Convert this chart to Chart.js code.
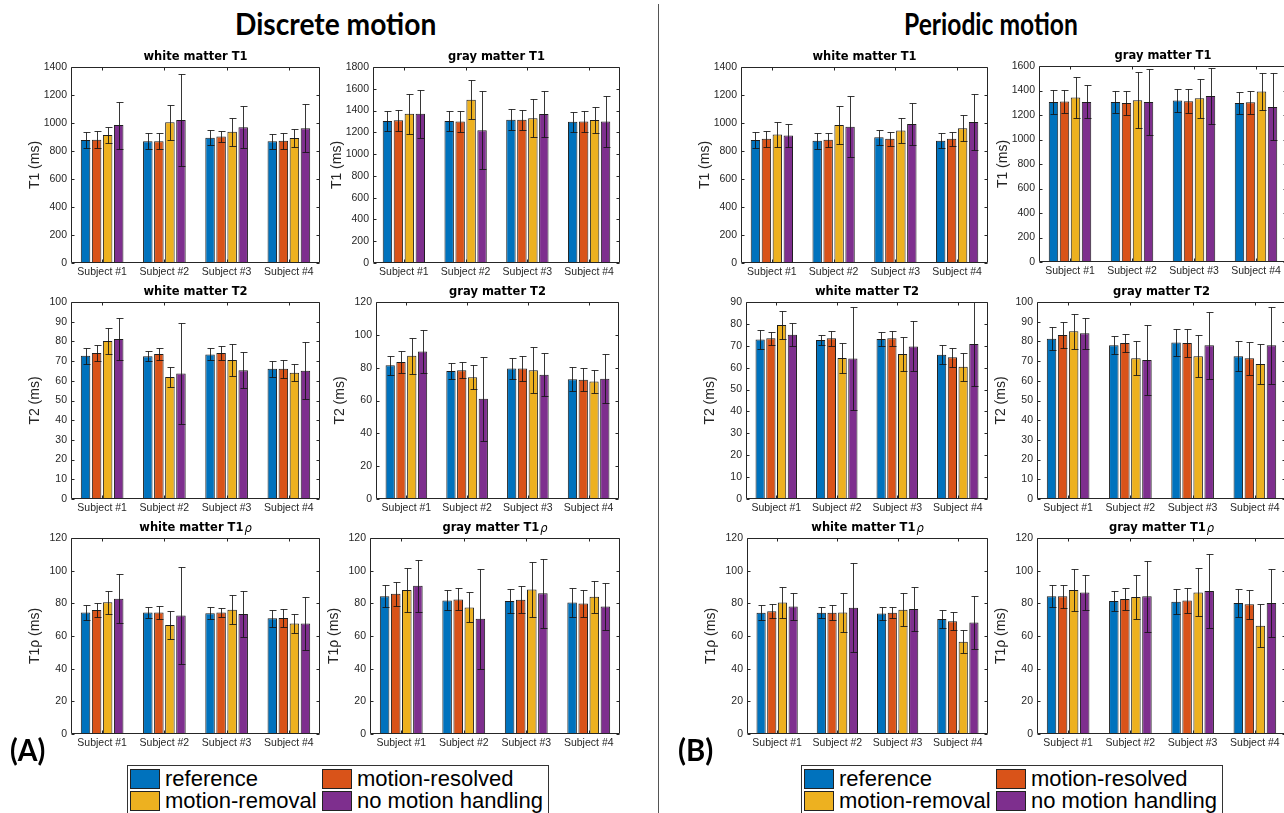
<!DOCTYPE html>
<html><head><meta charset="utf-8">
<script src="https://cdn.jsdelivr.net/npm/chart.js@4.4.0/dist/chart.umd.min.js"></script>
<style>
html,body{margin:0;padding:0;background:#fff;width:1284px;height:813px;overflow:hidden;position:relative;font-family:'Liberation Sans',Arial,sans-serif;}
canvas{position:absolute;}
.big{position:absolute;font-family:Lato,'Open Sans',sans-serif;font-weight:bold;font-size:30px;color:#000;white-space:nowrap;line-height:1;transform-origin:0 0;}
.legend{position:absolute;border:1px solid #333;background:#fff;}
.item{position:absolute;display:flex;align-items:center;font-size:22px;white-space:nowrap;color:#000;line-height:1;}
.sw{width:28px;height:18px;border:1px solid #222;margin-right:5px;flex:none;}
#divider{position:absolute;left:658px;top:4px;width:1px;height:809px;background:#555;}
</style></head><body>
<div id="divider"></div>
<script>
const subjects = ['Subject #1','Subject #2','Subject #3','Subject #4'];
const seriesNames = ['reference','motion-resolved','motion-removal','no motion handling'];
const seriesColors = ['#0072BD','#D95319','#EDB120','#7E2F8E'];

// [series][subject]: reference, motion-resolved, motion-removal, no motion handling
const discWmT1 = [[878,870,895,870],[880,870,903,873],[915,1005,937,893],[985,1022,970,963]];
const discWmT1Err = [[59,58,53,55],[60,58,40,57],[58,123,100,66],[168,328,148,170]];
const discGmT1 = [[1305,1305,1315,1298],[1310,1300,1315,1300],[1370,1500,1330,1313],[1370,1220,1368,1300]];
const discGmT1Err = [[93,92,98,93],[95,96,93,96],[186,177,172,119],[223,360,210,236]];
const discWmT2 = [[72.7,72.5,73.4,66.1],[74.1,73.6,74.1,66.1],[80.2,61.9,70.5,64.1],[81.2,63.7,65.3,65.1]];
const discWmT2Err = [[4.2,2.5,3.0,4.2],[4.0,3.0,3.5,4.5],[6.7,5.3,8.0,4.2],[10.7,25.6,9.2,14.4]];
const discGmT2 = [[81.4,77.9,79.5,73.0],[83.4,78.5,79.5,72.6],[87.2,74.2,78.5,71.6],[89.9,61.0,75.7,73.2]];
const discGmT2Err = [[5.8,4.8,6.5,7.4],[6.7,5.0,7.5,6.9],[10.9,7.3,14.1,7.2],[13.1,25.8,13.2,15.0]];
const discWmT1rho = [[74.4,74.4,74.0,70.8],[75.9,74.4,74.4,71.0],[80.7,66.7,76.1,67.7],[82.8,72.6,73.4,67.7]];
const discWmT1rhoErr = [[4.6,3.5,3.8,5.4],[4.3,4.0,2.8,5.5],[7.0,8.6,9.0,5.9],[15.0,29.5,14.3,16.4]];
const discGmT1rho = [[84.4,81.8,81.4,80.5],[85.8,82.4,82.2,79.9],[88.1,77.5,88.5,84.0],[90.7,70.6,86.2,78.1]];
const discGmT1rhoErr = [[6.8,6.1,7.4,8.7],[7.3,6.7,8.2,8.3],[13.5,9.2,17.1,9.8],[15.8,30.6,21.0,14.4]];

const perWmT1 = [[878,873,899,873],[887,880,887,887],[918,985,947,963],[911,973,992,1007]];
const perWmT1Err = [[58,57,53,55],[58,52,51,50],[88,135,88,93],[79,217,151,200]];
const perGmT1 = [[1307,1307,1318,1298],[1310,1298,1312,1304],[1342,1320,1337,1391],[1307,1307,1356,1266]];
const perGmT1Err = [[95,92,97,93],[95,94,98,92],[166,227,160,154],[134,268,231,273]];
const perWmT2 = [[72.9,72.6,73.1,65.9],[73.4,73.4,73.4,64.8],[79.5,64.4,66.2,60.4],[75.0,64.2,69.7,70.8]];
const perWmT2Err = [[4.3,2.3,3.3,4.3],[3.0,3.5,3.3,4.4],[6.3,7.0,7.8,6.5],[5.2,23.6,11.4,19.0]];
const perGmT2 = [[81.4,78.1,79.5,72.5],[83.2,79.2,79.2,71.4],[85.1,71.4,72.5,68.5],[84.2,70.5,78.0,78.1]];
const perGmT2Err = [[5.8,4.6,6.7,7.5],[6.8,4.4,7.0,8.3],[8.8,8.6,10.6,10.0],[7.9,17.8,16.9,19.6]];
const perWmT1rho = [[74.2,74.2,73.8,70.4],[75.2,74.2,74.2,69.1],[80.5,74.4,76.1,56.5],[78.1,77.3,76.5,68.3]];
const perWmT1rhoErr = [[4.5,3.4,3.9,5.5],[4.2,4.5,3.3,5.3],[9.6,12.1,10.0,7.2],[8.5,27.4,13.3,16.1]];
const perGmT1rho = [[84.3,81.4,81.0,80.2],[84.3,82.7,81.8,79.4],[88.2,83.9,86.7,66.3],[86.7,84.3,87.6,80.2]];
const perGmT1rhoErr = [[6.7,5.9,7.5,8.8],[7.0,6.5,7.8,8.9],[12.6,13.2,14.7,13.0],[10.5,21.8,22.7,20.8]];

const panels = [
  {left:71, top:67, w:249, h:196, title:'white matter T1', rho:false, ytitle:'T1 (ms)', max:1400, step:200, mean:discWmT1, err:discWmT1Err},
  {left:373, top:67, w:247, h:196, title:'gray matter T1', rho:false, ytitle:'T1 (ms)', max:1800, step:200, mean:discGmT1, err:discGmT1Err},
  {left:71, top:302, w:249, h:197, title:'white matter T2', rho:false, ytitle:'T2 (ms)', max:100, step:10, mean:discWmT2, err:discWmT2Err},
  {left:376, top:302, w:243, h:197, title:'gray matter T2', rho:false, ytitle:'T2 (ms)', max:120, step:20, mean:discGmT2, err:discGmT2Err},
  {left:71, top:538, w:249, h:196, title:'white matter T1', rho:true, ytitle:'T1ρ (ms)', max:120, step:20, mean:discWmT1rho, err:discWmT1rhoErr},
  {left:370, top:538, w:250, h:196, title:'gray matter T1', rho:true, ytitle:'T1ρ (ms)', max:120, step:20, mean:discGmT1rho, err:discGmT1rhoErr},
  {left:741, top:67, w:247, h:196, title:'white matter T1', rho:false, ytitle:'T1 (ms)', max:1400, step:200, mean:perWmT1, err:perWmT1Err},
  {left:1039, top:66, w:248, h:196, title:'gray matter T1', rho:false, ytitle:'T1 (ms)', max:1600, step:200, mean:perGmT1, err:perGmT1Err},
  {left:746, top:302, w:242, h:197, title:'white matter T2', rho:false, ytitle:'T2 (ms)', max:90, step:10, mean:perWmT2, err:perWmT2Err},
  {left:1037, top:302, w:249, h:197, title:'gray matter T2', rho:false, ytitle:'T2 (ms)', max:100, step:10, mean:perGmT2, err:perGmT2Err},
  {left:747, top:538, w:241, h:196, title:'white matter T1', rho:true, ytitle:'T1ρ (ms)', max:120, step:20, mean:perWmT1rho, err:perWmT1rhoErr},
  {left:1037, top:538, w:249, h:196, title:'gray matter T1', rho:true, ytitle:'T1ρ (ms)', max:120, step:20, mean:perGmT1rho, err:perGmT1rhoErr}
];

const AX = '#262626';
const Y_W = 46, TOP_PAD = 20, X_H = 18, RIGHT_PAD = 3;

const decoPlugin = {
  id: 'deco',
  afterDatasetsDraw(chart, args, opts) {
    const {ctx, chartArea: a, scales: {y}} = chart;
    ctx.save();
    ctx.beginPath(); ctx.rect(a.left, a.top - 1, a.right - a.left, a.bottom - a.top + 2); ctx.clip();
    ctx.strokeStyle = 'rgba(20,20,20,0.85)';
    ctx.lineWidth = 1;
    chart.data.datasets.forEach((ds, i) => {
      const meta = chart.getDatasetMeta(i);
      meta.data.forEach((bar, j) => {
        const v = ds.data[j], e = ds.err[j];
        const px = Math.round(bar.x) + 0.5;
        const yt = Math.round(y.getPixelForValue(v + e)) + 0.5;
        const yb = Math.round(y.getPixelForValue(v - e)) + 0.5;
        ctx.beginPath();
        ctx.moveTo(px, yt); ctx.lineTo(px, yb);
        ctx.moveTo(px - 3, yt); ctx.lineTo(px + 4, yt);
        ctx.moveTo(px - 3, yb); ctx.lineTo(px + 4, yb);
        ctx.stroke();
      });
    });
    ctx.restore();
  },
  afterDraw(chart, args, opts) {
    const {ctx, chartArea: a, scales: {x, y}} = chart;
    ctx.save();
    ctx.strokeStyle = AX; ctx.lineWidth = 1;
    const L = Math.round(a.left) + 0.5, R = Math.round(a.right) - 0.5;
    const T = Math.round(a.top) + 0.5, B = Math.round(a.bottom) - 0.5;
    ctx.beginPath();
    ctx.rect(L, T, R - L, B - T);
    y.ticks.forEach(t => {
      const py = Math.round(y.getPixelForValue(t.value)) + 0.5;
      ctx.moveTo(L, py); ctx.lineTo(L + 3, py);
      ctx.moveTo(R, py); ctx.lineTo(R - 3, py);
    });
    x.ticks.forEach((t, i) => {
      const px = Math.round(x.getPixelForTick(i)) + 0.5;
      ctx.moveTo(px, T); ctx.lineTo(px, T + 3);
      ctx.moveTo(px, B); ctx.lineTo(px, B - 3);
    });
    ctx.stroke();
    // title
    const cx = (a.left + a.right) / 2, ty = a.top - 10;
    ctx.fillStyle = '#000';
    ctx.textBaseline = 'middle';
    const f1 = 'bold 11.5px "DejaVu Sans", sans-serif';
    const f2 = 'italic 11.5px "DejaVu Sans", sans-serif';
    ctx.font = f1;
    const w1 = ctx.measureText(opts.title).width;
    let w2 = 0;
    if (opts.rho) { ctx.font = f2; w2 = ctx.measureText('ρ').width + 1; }
    const sx = cx - (w1 + w2) / 2;
    ctx.font = f1; ctx.textAlign = 'left';
    ctx.fillText(opts.title, sx, ty);
    if (opts.rho) { ctx.font = f2; ctx.fillText('ρ', sx + w1 + 1, ty + 1); }
    ctx.restore();
  }
};

panels.forEach(p => {
  const c = document.createElement('canvas');
  const W = Y_W + p.w + RIGHT_PAD, H = TOP_PAD + p.h + X_H;
  c.width = W; c.height = H;
  c.style.width = W + 'px'; c.style.height = H + 'px';
  c.style.left = (p.left - Y_W) + 'px';
  c.style.top = (p.top - TOP_PAD) + 'px';
  document.body.appendChild(c);
  new Chart(c.getContext('2d'), {
    type: 'bar',
    data: {
      labels: subjects,
      datasets: seriesNames.map((n, i) => ({
        label: n,
        data: p.mean[i],
        err: p.err[i],
        backgroundColor: seriesColors[i],
        borderColor: '#1e1e1e',
        borderWidth: 1,
        borderSkipped: false,
        categoryPercentage: 0.71,
        barPercentage: 0.86
      }))
    },
    options: {
      responsive: false,
      devicePixelRatio: 1,
      animation: false,
      layout: {padding: {top: TOP_PAD, left: 0, right: RIGHT_PAD, bottom: 0}},
      plugins: {
        legend: {display: false},
        tooltip: {enabled: false},
        title: {display: false},
        deco: {title: p.title, rho: p.rho}
      },
      scales: {
        x: {
          offset: true,
          grid: {display: false, drawTicks: false},
          border: {display: false},
          ticks: {color: AX, font: {family: 'Liberation Sans', size: 10.5}, padding: 3, maxRotation: 0, autoSkip: false},
          afterFit: s => { s.height = X_H; }
        },
        y: {
          min: 0, max: p.max,
          grid: {display: false, drawTicks: false},
          border: {display: false},
          ticks: {stepSize: p.step, color: AX, font: {family: 'Liberation Sans', size: 10.5}, padding: 4, callback: v => String(v)},
          title: {display: true, text: p.ytitle, color: AX, font: {family: 'Liberation Sans', size: 14}, padding: {top: 2, bottom: 0}},
          afterFit: s => { s.width = Y_W; }
        }
      }
    },
    plugins: [decoPlugin]
  });
});

// Big titles and panel labels
function bigText(txt, x, y, targetW, center) {
  const d = document.createElement('div');
  d.className = 'big'; d.textContent = txt;
  document.body.appendChild(d);
  const w = d.offsetWidth;
  const s = targetW / w;
  const left = center ? x - targetW / 2 : x;
  d.style.left = left + 'px'; d.style.top = y + 'px';
  d.style.transform = 'scaleX(' + s + ')';
  return s;
}
bigText('Discrete motion', 335, 8, 201, true);
bigText('Periodic motion', 991, 8, 174, true);
bigText('(A)', 10, 734, 35, false);
bigText('(B)', 678, 734, 35, false);

// Legends
function legend(left, top) {
  const box = document.createElement('div');
  box.className = 'legend';
  box.style.left = left + 'px'; box.style.top = top + 'px';
  box.style.width = '420px'; box.style.height = '52px';
  document.body.appendChild(box);
  const pos = [[2, 3], [194, 3], [2, 25], [194, 25]];
  seriesNames.forEach((n, i) => {
    const it = document.createElement('div');
    it.className = 'item';
    it.style.left = pos[i][0] + 'px'; it.style.top = pos[i][1] + 'px';
    it.style.height = '20px';
    const sw = document.createElement('span');
    sw.className = 'sw'; sw.style.background = seriesColors[i];
    const t = document.createElement('span'); t.textContent = n;
    it.appendChild(sw); it.appendChild(t);
    box.appendChild(it);
  });
}
legend(127, 765);
legend(801, 765);
</script>
</body></html>
